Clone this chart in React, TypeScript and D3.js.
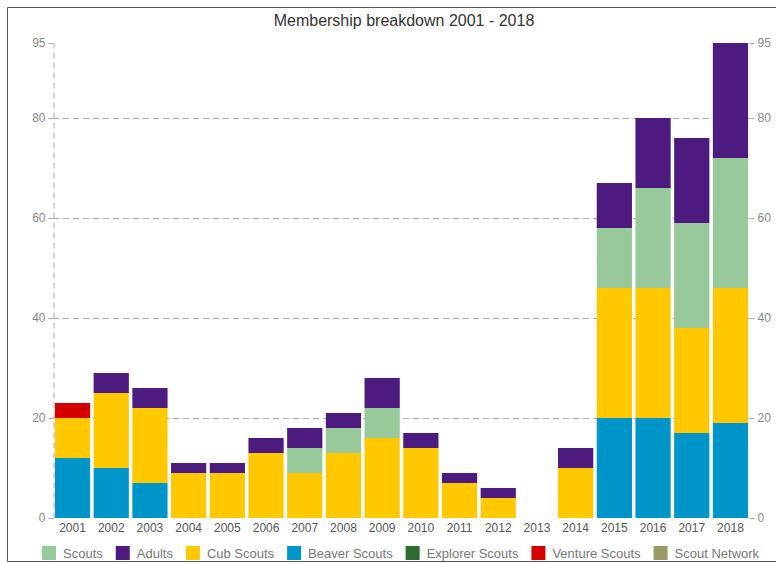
import React from "react";
import * as d3 from "d3";

const title = "Membership breakdown 2001 - 2018";
const years = ["2001","2002","2003","2004","2005","2006","2007","2008","2009","2010","2011","2012","2013","2014","2015","2016","2017","2018"];
// stacking order bottom -> top
const beaver = [12,10,7,0,0,0,0,0,0,0,0,0,0,0,20,20,17,19];
const cubs = [8,15,15,9,9,13,9,13,16,14,7,4,0,10,26,26,21,27];
const scouts = [0,0,0,0,0,0,5,5,6,0,0,0,0,0,12,20,21,26];
const explorer = [0,0,0,0,0,0,0,0,0,0,0,0,0,0,0,0,0,0];
const venture = [3,0,0,0,0,0,0,0,0,0,0,0,0,0,0,0,0,0];
const network = [0,0,0,0,0,0,0,0,0,0,0,0,0,0,0,0,0,0];
const adults = [0,4,4,2,2,3,4,3,6,3,2,2,0,4,9,14,17,23];
const yTicks = [0, 20, 40, 60, 80, 95];

const legendOrder = ["Scouts","Adults","Cub Scouts","Beaver Scouts","Explorer Scouts","Venture Scouts","Scout Network"];
const colors: Record<string, string> = {
  "Scouts": "#98c99a",
  "Adults": "#4d1a7f",
  "Cub Scouts": "#ffc800",
  "Beaver Scouts": "#0095c8",
  "Explorer Scouts": "#2d6b32",
  "Venture Scouts": "#d40000",
  "Scout Network": "#9a9a66",
};

const App = () => {
  const svgRef = React.useRef(null);
  const width = 776, height = 563;
  const margin = { left: 53, right: 26, top: 43, bottom: 45 };

  React.useEffect(() => {
    const series = [
      { name: "Beaver Scouts", values: beaver },
      { name: "Cub Scouts", values: cubs },
      { name: "Scouts", values: scouts },
      { name: "Explorer Scouts", values: explorer },
      { name: "Venture Scouts", values: venture },
      { name: "Scout Network", values: network },
      { name: "Adults", values: adults },
    ];
    const rows = years.map((y, i) => {
      const r: any = { year: y };
      series.forEach((s) => (r[s.name] = s.values[i]));
      return r;
    });
    const stacked = d3.stack().keys(series.map((s) => s.name))(rows);

    const x = d3.scaleBand().domain(years).range([margin.left, width - margin.right]).paddingInner(0.09).paddingOuter(0.05);
    const y = d3.scaleLinear().domain([0, 95]).range([height - margin.bottom, margin.top]);

    const svg = d3.select(svgRef.current);
    svg.selectAll("*").remove();
    const font = "'Liberation Sans', Arial, sans-serif";

    // frame
    svg.append("path").attr("d", `M${width + 5},7.5 H7.5 V561.5 H${width + 5}`)
      .attr("fill", "none").attr("stroke", "#555").attr("stroke-width", 1);

    svg.append("text").attr("x", 404).attr("y", 26).attr("text-anchor", "middle")
      .attr("font-family", font).attr("font-size", 16).attr("fill", "#333").text(title);

    // grid
    svg.append("g").selectAll("line").data([20, 40, 60, 80]).join("line")
      .attr("x1", margin.left).attr("x2", width - margin.right)
      .attr("y1", (d) => Math.round(y(d)) + 0.5).attr("y2", (d) => Math.round(y(d)) + 0.5)
      .attr("stroke", "#aaa").attr("stroke-dasharray", "6,4");

    // left axis
    const left = svg.append("g").attr("transform", `translate(${margin.left + 0.5},0)`)
      .call(d3.axisLeft(y).tickValues(yTicks).tickSize(5).tickSizeOuter(0));
    left.select(".domain").attr("stroke", "#aaa").attr("stroke-dasharray", "6,4");
    const right = svg.append("g").attr("transform", `translate(${width - margin.right - 0.5},0)`)
      .call(d3.axisRight(y).tickValues(yTicks).tickSize(5).tickSizeOuter(0));
    right.select(".domain").remove();
    [left, right].forEach((g) => {
      g.selectAll(".tick line").attr("stroke", "#aaa");
      g.selectAll(".tick text").attr("fill", "#888").attr("font-size", 12).attr("font-family", font);
    });

    // bars
    svg.append("g").selectAll("g").data(stacked).join("g")
      .attr("fill", (d) => colors[d.key])
      .selectAll("rect").data((d) => d).join("rect")
      .attr("x", (d) => x(d.data.year as string)!)
      .attr("width", x.bandwidth())
      .attr("y", (d) => y(d[1]))
      .attr("height", (d) => y(d[0]) - y(d[1]));

    // x axis
    const bottom = svg.append("g").attr("transform", `translate(0,${height - margin.bottom})`)
      .call(d3.axisBottom(x).tickSize(0).tickPadding(5));
    bottom.select(".domain").remove();
    bottom.selectAll(".tick text").attr("fill", "#555").attr("font-size", 12).attr("font-family", font);

    // legend
    const leg = svg.append("g");
    let cx = 42;
    legendOrder.forEach((name) => {
      leg.append("rect").attr("x", cx).attr("y", 546).attr("width", 14).attr("height", 14).attr("fill", colors[name]);
      const t = leg.append("text").attr("x", cx + 21).attr("y", 558)
        .attr("font-family", font).attr("font-size", 13).attr("fill", "#777").text(name);
      const w = (t.node() as SVGTextElement).getComputedTextLength();
      cx += 21 + w + 13;
    });
  }, []);

  return <svg ref={svgRef} width={width} height={height} style={{ display: "block", position: "absolute", left: 0, top: 0 }} />;
};

export default App;
